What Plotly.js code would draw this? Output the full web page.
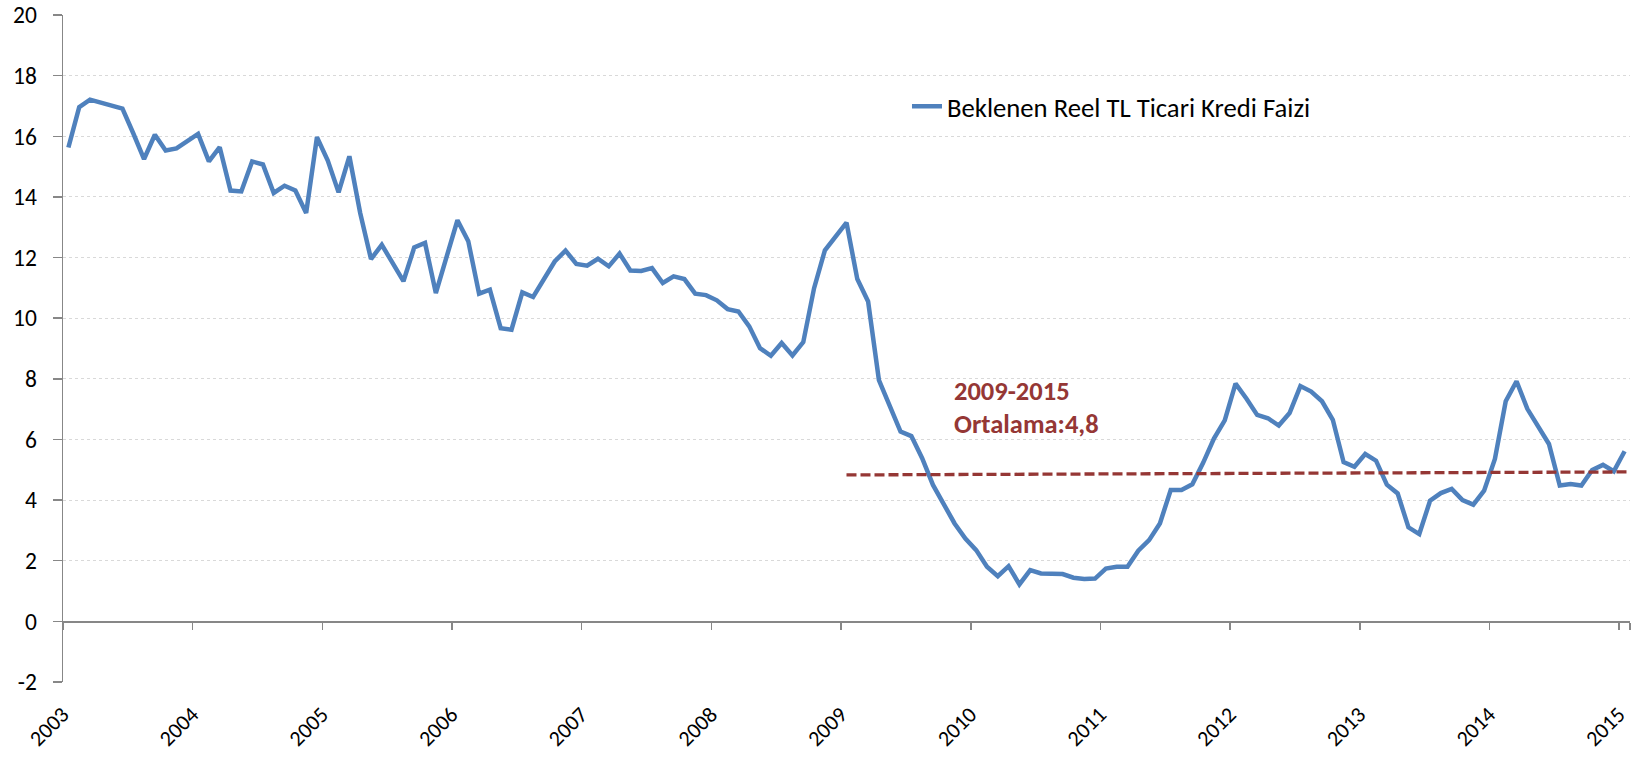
<!DOCTYPE html>
<html><head><meta charset="utf-8">
<script src="https://cdn.plot.ly/plotly-3.0.1.min.js"></script>
<style>html,body{margin:0;padding:0;background:#fff}#chart{width:1641px;height:757px}</style>
</head><body><div id="chart"></div>
<script>
// Monthly categories 2003-01 .. 2015-01
const months = (function () {
  const a = [];
  for (let y = 2003; y <= 2015; y++) {
    for (let m = 1; m <= 12; m++) {
      if (y === 2015 && m > 1) break;
      a.push(y + '-' + String(m).padStart(2, '0'));
    }
  }
  return a;
})();

const yearTicks = ['2003-01','2004-01','2005-01','2006-01','2007-01','2008-01','2009-01','2010-01','2011-01','2012-01','2013-01','2014-01','2015-01'];
const yearLabels = ['2003','2004','2005','2006','2007','2008','2009','2010','2011','2012','2013','2014','2015'];
const yTickVals = [-2, 0, 2, 4, 6, 8, 10, 12, 14, 16, 18, 20];
const yTickText = ['-2', '0', '2', '4', '6', '8', '10', '12', '14', '16', '18', '20'];

const seriesName = 'Beklenen Reel TL Ticari Kredi Faizi';
const rate = [
  15.63, 16.96, 17.21, 17.11, 17.01, 16.91, 16.10, 15.25, 16.05, 15.53, 15.60, 15.83,
  16.08, 15.17, 15.64, 14.21, 14.18, 15.17, 15.07, 14.13, 14.37, 14.21, 13.47, 15.97,
  15.20, 14.15, 15.34, 13.47, 11.95, 12.42, 11.82, 11.22, 12.33, 12.48, 10.83, 12.04,
  13.23, 12.54, 10.81, 10.94, 9.67, 9.62, 10.85, 10.70, 11.27, 11.87, 12.23, 11.79,
  11.73, 11.96, 11.71, 12.13, 11.57, 11.56, 11.65, 11.16, 11.38, 11.29, 10.81, 10.76,
  10.59, 10.30, 10.22, 9.73, 9.01, 8.76, 9.18, 8.77, 9.21, 10.99, 12.24, 12.68,
  13.15, 11.29, 10.55, 7.96, 7.08, 6.26, 6.11, 5.38, 4.50, 3.89, 3.23, 2.73,
  2.35, 1.80, 1.49, 1.82, 1.22, 1.69, 1.58, 1.57, 1.56, 1.44, 1.40, 1.41,
  1.74, 1.80, 1.80, 2.33, 2.68, 3.23, 4.33, 4.33, 4.52, 5.23, 6.03, 6.63,
  7.84, 7.35, 6.81, 6.70, 6.46, 6.87, 7.76, 7.58, 7.26, 6.65, 5.25, 5.10,
  5.52, 5.30, 4.51, 4.22, 3.10, 2.88, 3.98, 4.23, 4.37, 4.00, 3.85, 4.31,
  5.36, 7.26, 7.92, 7.01, 6.40, 5.85, 4.48, 4.53, 4.48, 4.99, 5.16, 4.95,
  5.61
];

const avgPeriod = ['2009-01', '2015-01'];
const avgLevel = [4.83, 4.93];
const avgTitle = '2009-2015';
const avgLabel = 'Ortalama:4,8';

const FONT = 'Carlito, Lato, "Liberation Sans", sans-serif';
const AXIS = '#878787';
const RED = '#953735';

const traces = [{
  type: 'scatter', mode: 'lines',
  x: months, y: rate, name: seriesName,
  line: {color: '#4F81BD', width: 4.5, shape: 'linear'},
  hoverinfo: 'x+y'
}];

const layout = {
  width: 1641, height: 757,
  margin: {l: 63, r: 11, t: 15, b: 75},
  paper_bgcolor: '#ffffff', plot_bgcolor: '#ffffff',
  font: {family: FONT, color: '#000000', size: 22},
  showlegend: true,
  legend: {x: 0.5386, y: 0.899, xanchor: 'left', yanchor: 'top',
           font: {size: 26.7, color: '#000000'}, bgcolor: 'rgba(0,0,0,0)'},
  xaxis: {
    type: 'category', categoryorder: 'array', categoryarray: months,
    range: [-0.5, months.length - 0.5],
    tickmode: 'array', tickvals: yearTicks, ticktext: yearLabels,
    tickangle: -45, tickson: 'boundaries',
    ticks: 'outside', ticklen: 7, tickwidth: 1.5, tickcolor: AXIS,
    showline: true, linecolor: AXIS, linewidth: 1.5,
    showgrid: false, zeroline: false,
    anchor: 'free', position: 2 / 22,
    ticklabelstandoff: 70, ticklabelshift: -6, automargin: false,
    tickfont: {size: 22}
  },
  yaxis: {
    range: [-2, 20], tickmode: 'array', tickvals: yTickVals, ticktext: yTickText,
    ticks: 'outside', ticklen: 9, tickwidth: 1.5, tickcolor: AXIS,
    showline: true, linecolor: AXIS, linewidth: 1.5,
    showgrid: true, gridcolor: '#d9d9d9', griddash: 'dot', gridwidth: 1,
    zeroline: false, ticklabelstandoff: 11, automargin: false,
    tickfont: {size: 23.5}
  },
  shapes: [{
    type: 'line', xref: 'x', yref: 'y',
    x0: months.indexOf(avgPeriod[0]), x1: months.indexOf(avgPeriod[1]) + 1,
    y0: avgLevel[0], y1: avgLevel[1],
    line: {color: RED, width: 3.3, dash: '10px,4px'}
  }],
  annotations: [
    {xref: 'paper', yref: 'y', x: 0.5675, y: 7.6, xanchor: 'left', yanchor: 'middle',
     text: '<b>' + avgTitle + '</b>', showarrow: false, font: {size: 26.5, color: RED}},
    {xref: 'paper', yref: 'y', x: 0.5675, y: 6.52, xanchor: 'left', yanchor: 'middle',
     text: '<b>' + avgLabel + '</b>', showarrow: false, font: {size: 26.5, color: RED}}
  ]
};

Plotly.newPlot('chart', traces, layout, {displayModeBar: false, staticPlot: true});
</script>
</body></html>
